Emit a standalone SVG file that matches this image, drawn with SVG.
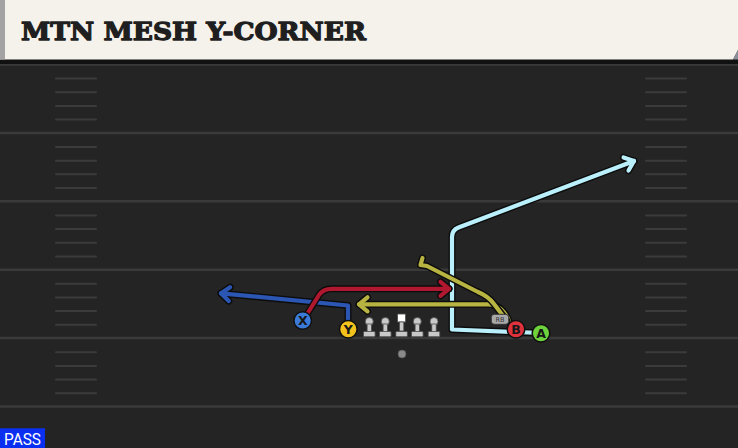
<svg xmlns="http://www.w3.org/2000/svg" width="738" height="448" viewBox="0 0 738 448">
<style>
.yard{stroke:#3a3a3a;stroke-width:2.5}
.hash{stroke:#3b3b3b;stroke-width:2;stroke-linecap:round}
.out{fill:none;stroke:#0c0c0c;stroke-width:7;stroke-linecap:round;stroke-linejoin:round}
.rt{fill:none;stroke-width:4.2;stroke-linecap:round;stroke-linejoin:round}
.lt{stroke:#b9f0fb}.rd{stroke:#b0182f}.yl{stroke:#b8b441}.bl{stroke:#2b56b3}
.ply{stroke:#101010;stroke-width:1.5}
.lbl{font-family:"DejaVu Sans",sans-serif;font-weight:bold;font-size:12.5px;fill:#161616;text-anchor:middle}
.ol{fill:#c8c8c8;stroke:#4a4a4a;stroke-width:0.8}
</style>
<defs>
<marker id="mo" markerUnits="userSpaceOnUse" viewBox="-14 -14 28 28" markerWidth="28" markerHeight="28" refX="0" refY="0" orient="auto" overflow="visible"><path d="M-8.5,-7 L0,0 L-8.5,7" fill="none" stroke="#0c0c0c" stroke-width="7" stroke-linecap="round" stroke-linejoin="round"/></marker>
<marker id="mlt" markerUnits="userSpaceOnUse" viewBox="-14 -14 28 28" markerWidth="28" markerHeight="28" refX="0" refY="0" orient="auto" overflow="visible"><path d="M-8.5,-7 L0,0 L-8.5,7" fill="none" stroke="#b9f0fb" stroke-width="4.2" stroke-linecap="round" stroke-linejoin="round"/></marker>
<marker id="mrd" markerUnits="userSpaceOnUse" viewBox="-14 -14 28 28" markerWidth="28" markerHeight="28" refX="0" refY="0" orient="auto" overflow="visible"><path d="M-8.5,-7 L0,0 L-8.5,7" fill="none" stroke="#b0182f" stroke-width="4.2" stroke-linecap="round" stroke-linejoin="round"/></marker>
<marker id="myl" markerUnits="userSpaceOnUse" viewBox="-14 -14 28 28" markerWidth="28" markerHeight="28" refX="0" refY="0" orient="auto" overflow="visible"><path d="M-8.5,-7 L0,0 L-8.5,7" fill="none" stroke="#b8b441" stroke-width="4.2" stroke-linecap="round" stroke-linejoin="round"/></marker>
<marker id="mbl" markerUnits="userSpaceOnUse" viewBox="-14 -14 28 28" markerWidth="28" markerHeight="28" refX="0" refY="0" orient="auto" overflow="visible"><path d="M-8.5,-7 L0,0 L-8.5,7" fill="none" stroke="#2b56b3" stroke-width="4.2" stroke-linecap="round" stroke-linejoin="round"/></marker>
<g id="lineman"><circle cx="0" cy="-12.5" r="4" class="ol"/><rect x="-2.2" y="-10" width="4.4" height="9" class="ol"/><rect x="-5.8" y="-2.5" width="11.6" height="5.2" rx="1" class="ol"/></g>
</defs>
<rect x="0" y="0" width="738" height="448" fill="#242424"/>
<g id="field">
<line x1="0" y1="64.5" x2="738" y2="64.5" class="yard"/>
<line x1="0" y1="132.9" x2="738" y2="132.9" class="yard"/>
<line x1="0" y1="201.3" x2="738" y2="201.3" class="yard"/>
<line x1="0" y1="269.7" x2="738" y2="269.7" class="yard"/>
<line x1="0" y1="338.1" x2="738" y2="338.1" class="yard"/>
<line x1="0" y1="406.5" x2="738" y2="406.5" class="yard"/>
<g id="hashes">
<path class="hash" d="M56,78.6H96M56,92.3H96M56,105.9H96M56,119.6H96M56,147H96M56,160.7H96M56,174.3H96M56,188H96M56,215.4H96M56,229.1H96M56,242.7H96M56,256.4H96M56,283.8H96M56,297.5H96M56,311.1H96M56,324.8H96M56,352.2H96M56,365.9H96M56,379.5H96M56,393.2H96"/>
<path class="hash" d="M646,78.6H686M646,92.3H686M646,105.9H686M646,119.6H686M646,147H686M646,160.7H686M646,174.3H686M646,188H686M646,215.4H686M646,229.1H686M646,242.7H686M646,256.4H686M646,283.8H686M646,297.5H686M646,311.1H686M646,324.8H686M646,352.2H686M646,365.9H686M646,379.5H686M646,393.2H686"/>
</g>
</g>
<g id="header">
<rect x="0" y="59" width="738" height="5" fill="#111"/>
<path d="M0,0 H738 V50 L733,59.5 H0 Z" fill="#f5f2eb"/>
<path d="M738,50 L733,59.5 H738 Z" fill="#8a8f99"/>
<rect x="0" y="0" width="5" height="59.5" fill="#a3a3a3"/>
<text x="21" y="40" font-family="'DejaVu Serif',serif" font-weight="bold" font-size="25" fill="#1f1f1f" stroke="#1f1f1f" stroke-width="1.3" stroke-linejoin="round" textLength="345" lengthAdjust="spacingAndGlyphs">MTN MESH Y-CORNER</text>
</g>
<g id="connectors">
<path class="out" d="M541,333 L452,329.5 L452,237 Q452,230 458.5,227.5 L634,161" marker-end="url(#mo)"/>
<path class="rt lt" d="M541,333 L452,329.5 L452,237 Q452,230 458.5,227.5 L634,161" marker-end="url(#mlt)"/>
<path class="out" d="M348,322 L348,305.5 L221,293.3" marker-end="url(#mo)"/>
<path class="rt bl" d="M348,322 L348,305.5 L221,293.3" marker-end="url(#mbl)"/>
<path class="out" d="M304,319 L319,295 Q323,288.8 332,288.8 L449,288.8" marker-end="url(#mo)"/>
<path class="rt rd" d="M304,319 L319,295 Q323,288.8 332,288.8 L449,288.8" marker-end="url(#mrd)"/>
<path class="out" d="M509,321 Q502,304.3 488,304.3 L359,304.3" marker-end="url(#mo)"/>
<path class="rt yl" d="M509,321 Q502,304.3 488,304.3 L359,304.3" marker-end="url(#myl)"/>
<path class="out" d="M507,321 L494,304 Q488,296 478,292 L427,266 L420.5,265 L422.5,258"/>
<path class="rt yl" d="M507,321 L494,304 Q488,296 478,292 L427,266 L420.5,265 L422.5,258"/>
</g>
<g id="player-X"><circle cx="302.7" cy="320.5" r="8.8" fill="#3b7ad6" class="ply"/><text x="302.7" y="325" class="lbl">X</text></g>
<g id="player-Y"><circle cx="348.3" cy="329.3" r="8.8" fill="#f3c21c" class="ply"/><text x="348.3" y="333.8" class="lbl">Y</text></g>
<g id="oline">
<use href="#lineman" x="369.3" y="334"/>
<use href="#lineman" x="385.3" y="334"/>
<g id="center"><rect x="397.6" y="314" width="8" height="8" fill="#ffffff" stroke="#4a4a4a" stroke-width="0.8"/><rect x="399.4" y="322" width="4.4" height="9" class="ol"/><rect x="395.8" y="331.5" width="11.6" height="5.2" rx="1" class="ol"/></g>
<use href="#lineman" x="417.3" y="334"/>
<use href="#lineman" x="434" y="334"/>
</g>
<g id="qb"><circle cx="402" cy="354" r="4" fill="#8a8a8a" stroke="#555" stroke-width="0.8"/></g>
<g id="rb-tag"><rect x="491.3" y="314.3" width="17.4" height="10" rx="3" fill="#a9a9a9" stroke="#333" stroke-width="1"/><text x="500" y="322" font-family="'DejaVu Sans',sans-serif" font-size="6.5" fill="#333" text-anchor="middle">RB</text></g>
<g id="player-B"><circle cx="516" cy="329.3" r="8.8" fill="#e0323d" class="ply"/><text x="516" y="333.8" class="lbl">B</text></g>
<g id="player-A"><circle cx="541" cy="333.3" r="8.8" fill="#6ed23c" class="ply"/><text x="541" y="337.8" class="lbl">A</text></g>
<g id="pass-tag"><rect x="0" y="428.3" width="45" height="19.7" fill="#0b2ff0"/><text x="4" y="445.3" font-family="Roboto,'Liberation Sans',sans-serif" font-size="16.5" fill="#ffffff" textLength="37" lengthAdjust="spacingAndGlyphs">PASS</text></g>
</svg>
